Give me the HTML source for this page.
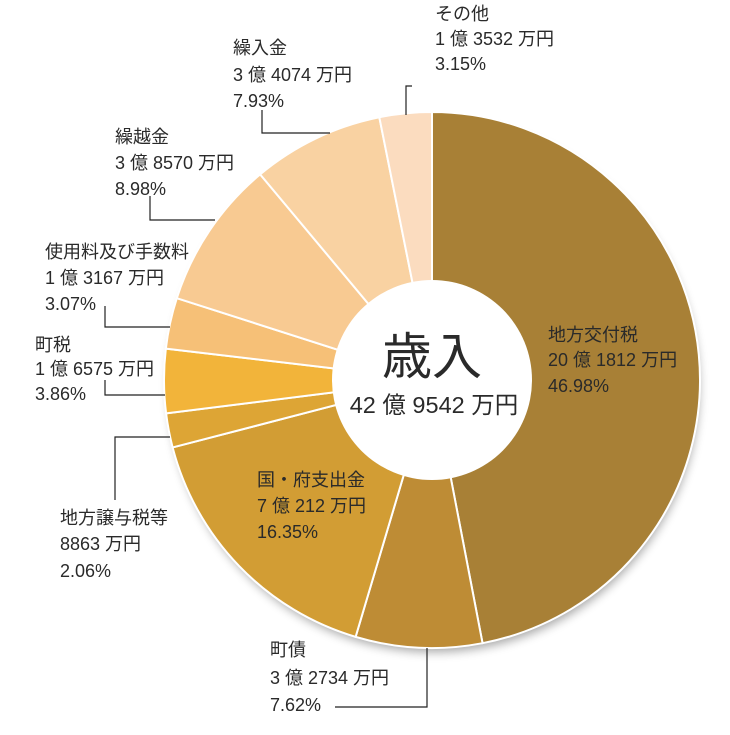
<!DOCTYPE html>
<html><head><meta charset="utf-8"><style>
body{margin:0;background:#fff;}
svg text{font-family:"Liberation Sans","Noto Sans CJK JP",sans-serif;fill:#2a2a2a;font-size:18px;}
</style></head><body>
<svg id="s" width="730" height="730" viewBox="0 0 730 730" xmlns="http://www.w3.org/2000/svg">
<defs><filter id="sh" x="-10%" y="-10%" width="120%" height="120%"><feGaussianBlur stdDeviation="5"/></filter></defs>
<circle cx="434" cy="387" r="265" fill="#000" opacity="0.35" filter="url(#sh)"/>
<g id="pie"></g>
<circle cx="432" cy="380" r="100" fill="#fff"/>
<g stroke="#222" stroke-width="1.2" fill="none">
<polyline points="406,115 406,86 412,86"/>
<polyline points="330,133 262,133 262,110"/>
<polyline points="215,220 150,220 150,196"/>
<polyline points="170,327 105,327 105,306"/>
<polyline points="165,395 105,395 105,380"/>
<polyline points="170,437 115,437 115,500"/>
<polyline points="427,648 427,707 335,707"/>
</g>
<text x="435" y="20">その他</text><text x="435" y="45">1 億 3532 万円</text><text x="435" y="70">3.15%</text>
<text x="233" y="54">繰入金</text><text x="233" y="81">3 億 4074 万円</text><text x="233" y="107">7.93%</text>
<text x="115" y="143">繰越金</text><text x="115" y="169">3 億 8570 万円</text><text x="115" y="195">8.98%</text>
<text x="45" y="258">使用料及び手数料</text><text x="45" y="284">1 億 3167 万円</text><text x="45" y="310">3.07%</text>
<text x="35" y="351">町税</text><text x="35" y="375">1 億 6575 万円</text><text x="35" y="400">3.86%</text>
<text x="60" y="524">地方譲与税等</text><text x="60" y="550">8863 万円</text><text x="60" y="577">2.06%</text>
<text x="270" y="656">町債</text><text x="270" y="684">3 億 2734 万円</text><text x="270" y="711">7.62%</text>
<text x="257" y="486">国・府支出金</text><text x="257" y="512">7 億 212 万円</text><text x="257" y="538">16.35%</text>
<text x="548" y="341">地方交付税</text><text x="548" y="366">20 億 1812 万円</text><text x="548" y="392">46.98%</text>
<text x="432" y="374" text-anchor="middle" style="font-size:50px">歳入</text>
<text x="434" y="413" text-anchor="middle" style="font-size:23.5px">42 億 9542 万円</text>
</svg>
<script>
var d=[[46.98,"#A88036"],[7.62,"#BE8C35"],[16.35,"#D29D34"],[2.06,"#DDA535"],[3.86,"#F2B43A"],[3.07,"#F6C077"],[8.98,"#F8CA92"],[7.93,"#F9D2A2"],[3.15,"#FBDCBF"]];
var cx=432,cy=380,r=268,a=0,h="";
d.forEach(function(e){var b=a+e[0]/100*2*Math.PI;
var x1=cx+r*Math.sin(a),y1=cy-r*Math.cos(a),x2=cx+r*Math.sin(b),y2=cy-r*Math.cos(b);
h+='<path d="M'+cx+','+cy+'L'+x1+','+y1+'A'+r+','+r+' 0 '+(b-a>Math.PI?1:0)+' 1 '+x2+','+y2+'Z" fill="'+e[1]+'" stroke="#fff" stroke-width="2"/>';a=b;});
document.getElementById("pie").innerHTML=h;
</script>
</body></html>
